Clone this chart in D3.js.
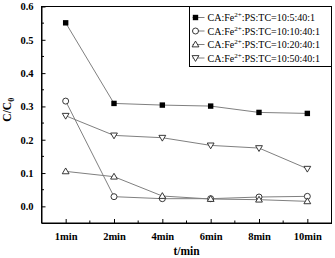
<!DOCTYPE html>
<html>
<head>
<meta charset="utf-8">
<script src="https://cdn.jsdelivr.net/npm/d3@7"></script>
<style>
  html, body { margin: 0; padding: 0; background: #fff; }
  svg { display: block; }
</style>
</head>
<body>
<div id="chart"></div>
<script>
// data
const times = ['1min', '2min', '4min', '6min', '8min', '10min'];
const ratio5 = [0.551, 0.309, 0.304, 0.301, 0.282, 0.279];
const ratio10 = [0.316, 0.029, 0.023, 0.023, 0.028, 0.030];
const ratio20 = [0.105, 0.089, 0.031, 0.022, 0.020, 0.015];
const ratio50 = [0.272, 0.213, 0.206, 0.183, 0.175, 0.113];
const seriesNames = ['10:5:40:1', '10:10:40:1', '10:20:40:1', '10:50:40:1'];
const yTicks = [0.0, 0.1, 0.2, 0.3, 0.4, 0.5, 0.6];
const yMinorTicks = [0.05, 0.15, 0.25, 0.35, 0.45, 0.55];

const series = [
    { name: seriesNames[0], values: ratio5, symbol: 'square' },
    { name: seriesNames[1], values: ratio10, symbol: 'circle' },
    { name: seriesNames[2], values: ratio20, symbol: 'up' },
    { name: seriesNames[3], values: ratio50, symbol: 'down' }
];

const W = 335, H = 258;
const margin = { top: 6.5, right: 3.5, bottom: 35, left: 41.5 };
const width = W - margin.left - margin.right;
const height = H - margin.top - margin.bottom;

const svg = d3.select('#chart')
    .append('svg')
    .attr('width', W)
    .attr('height', H);

const g = svg.append('g')
    .attr('transform', `translate(${margin.left},${margin.top})`);

const x = d3.scalePoint()
    .domain(times)
    .range([0, width])
    .padding(0.5);

// index scale for minor ticks between categories
const xi = d3.scaleLinear()
    .domain([-0.5, times.length - 0.5])
    .range([0, width]);

const y = d3.scaleLinear()
    .domain([-0.05, 0.6])
    .range([height, 0]);

const serif = '"Liberation Serif", "Times New Roman", serif';

// frame
g.append('rect')
    .attr('x', 0).attr('y', 0)
    .attr('width', width).attr('height', height)
    .attr('fill', 'none')
    .attr('stroke', '#000')
    .attr('stroke-width', 1);

// x axis, ticks pointing inward
const xAxis = g.append('g')
    .attr('transform', `translate(0,${height})`)
    .call(d3.axisBottom(x).tickSizeInner(-4).tickSizeOuter(0).tickPadding(10));
xAxis.select('.domain').attr('stroke', '#000');
xAxis.selectAll('text')
    .attr('font-family', serif)
    .attr('font-weight', 'bold')
    .attr('font-size', 10.5)
    .attr('fill', '#000');

const xMinor = d3.range(0, times.length - 1).map(i => i + 0.5);
g.append('g')
    .selectAll('line')
    .data(xMinor)
    .join('line')
    .attr('x1', d => xi(d)).attr('x2', d => xi(d))
    .attr('y1', height).attr('y2', height - 2.5)
    .attr('stroke', '#000');

// y axis
const yAxis = g.append('g')
    .call(d3.axisLeft(y).tickValues(yTicks).tickFormat(d3.format('.1f'))
        .tickSizeInner(-4).tickSizeOuter(0).tickPadding(8));
yAxis.select('.domain').attr('stroke', '#000');
yAxis.selectAll('text')
    .attr('font-family', serif)
    .attr('font-weight', 'bold')
    .attr('font-size', 10.5)
    .attr('fill', '#000');

g.append('g')
    .selectAll('line')
    .data(yMinorTicks)
    .join('line')
    .attr('x1', 0).attr('x2', 2.5)
    .attr('y1', d => y(d)).attr('y2', d => y(d))
    .attr('stroke', '#000');

// axis titles
svg.append('text')
    .attr('x', margin.left + width / 2)
    .attr('y', H - 3.5)
    .attr('text-anchor', 'middle')
    .attr('font-family', serif)
    .attr('font-weight', 'bold')
    .attr('font-size', 11.5)
    .text('t/min');

const yTitle = svg.append('text')
    .attr('transform', `translate(11,${margin.top + y(0.29)}) rotate(-90)`)
    .attr('text-anchor', 'middle')
    .attr('font-family', serif)
    .attr('font-weight', 'bold')
    .attr('font-size', 11.5);
yTitle.append('tspan').text('C/C');
yTitle.append('tspan').attr('font-size', 8).attr('dy', 3).text('0');

// marker drawing
function drawMarker(sel, symbol, cx, cy) {
    if (symbol === 'square') {
        sel.append('rect')
            .attr('x', cx - 2.7).attr('y', cy - 2.7)
            .attr('width', 5.4).attr('height', 5.4)
            .attr('fill', '#000');
    } else if (symbol === 'circle') {
        sel.append('circle')
            .attr('cx', cx).attr('cy', cy).attr('r', 3)
            .attr('fill', '#fff').attr('stroke', '#222').attr('stroke-width', 0.9);
    } else {
        const s = 3.4;
        const pts = symbol === 'up'
            ? [[cx, cy - s], [cx - s, cy + s * 0.7], [cx + s, cy + s * 0.7]]
            : [[cx, cy + s], [cx - s, cy - s * 0.7], [cx + s, cy - s * 0.7]];
        sel.append('polygon')
            .attr('points', pts.map(p => p.join(',')).join(' '))
            .attr('fill', '#fff').attr('stroke', '#222').attr('stroke-width', 0.9);
    }
}

const line = d3.line()
    .x((d, i) => x(times[i]))
    .y(d => y(d));

series.forEach(s => {
    g.append('path')
        .datum(s.values)
        .attr('d', line)
        .attr('fill', 'none')
        .attr('stroke', '#808080')
        .attr('stroke-width', 1);
});

series.forEach(s => {
    const mg = g.append('g');
    s.values.forEach((v, i) => drawMarker(mg, s.symbol, x(times[i]), y(v)));
});

// legend
const legend = g.append('g')
    .attr('transform', `translate(${148},${0})`);

legend.append('rect')
    .attr('x', 0).attr('y', 0)
    .attr('width', width - 148).attr('height', 60)
    .attr('fill', '#fff')
    .attr('stroke', '#000')
    .attr('stroke-width', 1);

series.forEach((s, i) => {
    const ly = 11 + i * 13.5;
    const row = legend.append('g');
    row.append('line')
        .attr('x1', 3).attr('x2', 15)
        .attr('y1', ly).attr('y2', ly)
        .attr('stroke', '#808080');
    drawMarker(row, s.symbol, 6, ly);
    const t = row.append('text')
        .attr('x', 18)
        .attr('y', ly + 3.5)
        .attr('font-family', serif)
        .attr('font-size', 10)
        .attr('fill', '#000');
    t.append('tspan').text('CA:Fe');
    t.append('tspan').attr('font-size', 7).attr('dy', -4).text('2+');
    t.append('tspan').attr('dy', 4).text(':PS:TC=' + s.name);
});
</script>
</body>
</html>
